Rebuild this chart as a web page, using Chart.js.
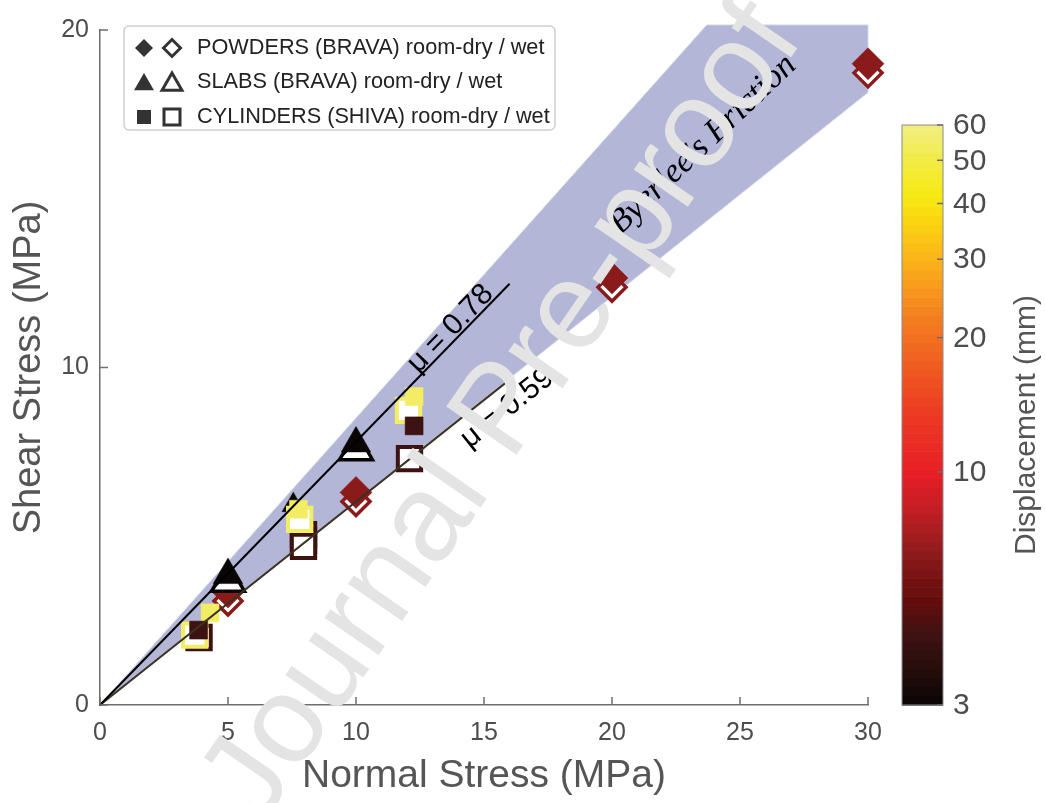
<!DOCTYPE html>
<html>
<head>
<meta charset="utf-8">
<script src="https://cdn.jsdelivr.net/npm/chart.js@4.4.1/dist/chart.umd.min.js"></script>
<style>
  html, body { margin: 0; padding: 0; background: #fff; }
  #wrap { width: 1045px; height: 803px; }
</style>
</head>
<body>
<div id="wrap"><canvas id="graph1" width="1045" height="803"></canvas></div>
<script>
// normal stress (MPa) / shear stress (MPa) / displacement (mm)
var powderX = [5, 10, 20, 30];
var powderDryY = [3.35, 6.3, 12.65, 19.0];
var powderWetY = [3.08, 6.03, 12.38, 18.73];
var powderDispl = [6.5, 6.5, 6.5, 6.5];

var slabDryX = [5, 7.55, 10];
var slabDryY = [3.85, 5.92, 7.75];
var slabDryDispl = [3, 3, 3];
var slabWetX = [5, 10];
var slabWetY = [3.65, 7.55];
var slabWetDispl = [3, 3];

var cylDryX = [4.3, 7.75, 12.27, 3.85, 12.27];
var cylDryY = [2.73, 5.8, 9.14, 2.22, 8.27];
var cylDryDispl = [55, 55, 55, 4.3, 4.3];
var cylWetX = [3.87, 7.95, 7.95, 7.95, 12.09, 3.7, 7.8, 12.05];
var cylWetY = [2.0, 5.05, 4.88, 4.7, 7.3, 2.07, 5.5, 8.73];
var cylWetDispl = [4.3, 4.3, 4.3, 4.3, 4.3, 55, 55, 55];

// Byerlee band and friction lines
var bandX = [0, 23.7, 30, 30, 0];
var bandY = [0, 20.15, 20.15, 18.15, 0];
var mu78X = [0, 16];
var mu78Y = [0, 12.48];
var mu59X = [0, 16.1];
var mu59Y = [0, 9.7];

var xTicks = [0, 5, 10, 15, 20, 25, 30];
var yTicks = [0, 10, 20];
var cbarTicks = [3, 10, 20, 30, 40, 50, 60];
var cbarMin = 3, cbarMax = 60;

var FONT = "'Liberation Sans', Arial, sans-serif";

// colormap (log displacement)
var cmapStops = [
  [0.00, [10, 5, 5]],
  [0.06, [38, 13, 13]],
  [0.12, [61, 18, 18]],
  [0.18, [100, 12, 12]],
  [0.26, [140, 26, 26]],
  [0.33, [190, 30, 36]],
  [0.40, [232, 30, 38]],
  [0.50, [236, 58, 34]],
  [0.60, [240, 98, 32]],
  [0.68, [244, 132, 30]],
  [0.77, [251, 180, 26]],
  [0.84, [250, 216, 16]],
  [0.88, [246, 234, 20]],
  [0.94, [242, 236, 70]],
  [1.00, [242, 238, 130]]
];

function cmapT(t) {
  t = Math.max(0, Math.min(1, t));
  for (var i = 1; i < cmapStops.length; i++) {
    if (t <= cmapStops[i][0]) {
      var a = cmapStops[i - 1], b = cmapStops[i];
      var f = (t - a[0]) / (b[0] - a[0]);
      var c = a[1].map(function (v, k) { return Math.round(v + (b[1][k] - v) * f); });
      return 'rgb(' + c.join(',') + ')';
    }
  }
  return 'rgb(242,238,130)';
}
function dispT(d) { return Math.log(d / cbarMin) / Math.log(cbarMax / cbarMin); }
function dispColor(d) { return cmapT(dispT(d)); }

function pts(xs, ys) { return xs.map(function (x, i) { return { x: x, y: ys[i] }; }); }

function drawMarker(ctx, style, x, y, r, fill, stroke, lw) {
  ctx.beginPath();
  if (style === 'diamond') {
    ctx.moveTo(x, y - r); ctx.lineTo(x + r, y); ctx.lineTo(x, y + r); ctx.lineTo(x - r, y);
  } else if (style === 'triangle') {
    ctx.moveTo(x, y - r);
    ctx.lineTo(x + r * 0.866, y + r / 2);
    ctx.lineTo(x - r * 0.866, y + r / 2);
  } else {
    ctx.rect(x - r, y - r, 2 * r, 2 * r);
  }
  ctx.closePath();
  if (fill) { ctx.fillStyle = fill; ctx.fill(); }
  if (stroke) { ctx.strokeStyle = stroke; ctx.lineWidth = lw; ctx.stroke(); }
}

var overlay = {
  id: 'overlay',
  beforeDatasetsDraw: function (chart) {
    var ctx = chart.ctx, xs = chart.scales.x, ys = chart.scales.y;
    ctx.save();
    ctx.beginPath();
    bandX.forEach(function (x, i) {
      var px = xs.getPixelForValue(x), py = ys.getPixelForValue(bandY[i]);
      if (i === 0) ctx.moveTo(px, py); else ctx.lineTo(px, py);
    });
    ctx.closePath();
    ctx.fillStyle = '#b4b6d8';
    ctx.fill();
    ctx.strokeStyle = '#d6d7e4';
    ctx.lineWidth = 1;
    ctx.stroke();
    ctx.restore();
  },
  afterDraw: function (chart) {
    var ctx = chart.ctx, xs = chart.scales.x, ys = chart.scales.y;
    var area = chart.chartArea;

    // inward ticks
    ctx.save();
    ctx.strokeStyle = '#6e6e6e';
    ctx.lineWidth = 1.5;
    xTicks.forEach(function (v) {
      var px = xs.getPixelForValue(v);
      ctx.beginPath(); ctx.moveTo(px, area.bottom); ctx.lineTo(px, area.bottom - 8); ctx.stroke();
    });
    yTicks.forEach(function (v) {
      var py = ys.getPixelForValue(v);
      ctx.beginPath(); ctx.moveTo(area.left, py); ctx.lineTo(area.left + 8, py); ctx.stroke();
    });
    ctx.restore();

    // rotated line labels
    function lineLabel(text, lx, ly, atX, offset, font) {
      var x0 = xs.getPixelForValue(lx[0]), y0 = ys.getPixelForValue(ly[0]);
      var x1 = xs.getPixelForValue(lx[1]), y1 = ys.getPixelForValue(ly[1]);
      var ang = Math.atan2(y1 - y0, x1 - x0);
      var f = (atX - lx[0]) / (lx[1] - lx[0]);
      var ax = x0 + (x1 - x0) * f, ay = y0 + (y1 - y0) * f;
      ctx.save();
      ctx.translate(ax, ay);
      ctx.rotate(ang);
      ctx.font = font;
      ctx.fillStyle = '#000';
      ctx.textAlign = 'center';
      ctx.textBaseline = 'middle';
      ctx.fillText(text, 0, offset);
      ctx.restore();
    }
    lineLabel('\u03bc = 0.78', mu78X, mu78Y, 14.0, -11, '30px ' + FONT);
    lineLabel('\u03bc = 0.59', mu59X, mu59Y, 15.4, 21, '30px ' + FONT);

    // Byerlee's friction label
    ctx.save();
    ctx.translate(xs.getPixelForValue(23.55), ys.getPixelForValue(16.6));
    ctx.rotate(-43.5 * Math.PI / 180);
    ctx.font = "italic 34px 'Liberation Serif', 'Times New Roman', serif";
    ctx.fillStyle = '#000';
    ctx.textAlign = 'center';
    ctx.textBaseline = 'middle';
    ctx.fillText("Byerlee's Friction", 0, 0);
    ctx.restore();

    // legend
    ctx.save();
    var lx = 124, ly = 26, lw = 431, lh = 104, rr = 5;
    ctx.beginPath();
    ctx.moveTo(lx + rr, ly);
    ctx.arcTo(lx + lw, ly, lx + lw, ly + lh, rr);
    ctx.arcTo(lx + lw, ly + lh, lx, ly + lh, rr);
    ctx.arcTo(lx, ly + lh, lx, ly, rr);
    ctx.arcTo(lx, ly, lx + lw, ly, rr);
    ctx.closePath();
    ctx.fillStyle = '#fff';
    ctx.fill();
    ctx.strokeStyle = '#cfcfcf';
    ctx.lineWidth = 1.5;
    ctx.stroke();
    var rows = [
      ['diamond', 'POWDERS (BRAVA) room-dry / wet', 48, 9, 8.5],
      ['triangle', 'SLABS (BRAVA) room-dry / wet', 82, 11.5, 11.5],
      ['square', 'CYLINDERS (SHIVA) room-dry / wet', 117, 7, 8]
    ];
    rows.forEach(function (r) {
      var cy = r[0] === 'triangle' ? r[2] + 2.5 : r[2];
      drawMarker(ctx, r[0], 144, cy, r[3], '#333', null, 0);
      drawMarker(ctx, r[0], 172, cy, r[4], '#fff', '#333', 3);
      ctx.font = '21.7px ' + FONT;
      ctx.fillStyle = '#222';
      ctx.textAlign = 'left';
      ctx.textBaseline = 'middle';
      ctx.fillText(r[1], 197, r[2]);
    });
    ctx.restore();

    // colorbar
    var cb = { left: 902, right: 943, top: 125, bottom: 705 };
    ctx.save();
    var n = 64, hb = (cb.bottom - cb.top) / n;
    for (var i = 0; i < n; i++) {
      ctx.fillStyle = cmapT((i + 0.5) / n);
      ctx.fillRect(cb.left, cb.bottom - (i + 1) * hb, cb.right - cb.left, hb + 0.6);
    }
    ctx.strokeStyle = '#8a8a8a';
    ctx.lineWidth = 1;
    ctx.strokeRect(cb.left, cb.top, cb.right - cb.left, cb.bottom - cb.top);
    ctx.font = '30px ' + FONT;
    ctx.fillStyle = '#4d4d4d';
    ctx.textAlign = 'left';
    ctx.textBaseline = 'middle';
    cbarTicks.forEach(function (v) {
      var py = cb.bottom - dispT(v) * (cb.bottom - cb.top);
      ctx.strokeStyle = '#6e6e6e';
      ctx.lineWidth = 1.5;
      ctx.beginPath(); ctx.moveTo(cb.right, py); ctx.lineTo(cb.right - 6, py); ctx.stroke();
      ctx.fillText(String(v), 953, py + 1);
    });
    ctx.translate(1027, 425);
    ctx.rotate(-Math.PI / 2);
    ctx.textAlign = 'center';
    ctx.fillStyle = '#555';
    ctx.font = '30px ' + FONT;
    ctx.fillText('Displacement (mm)', 0, 0);
    ctx.restore();

    // watermark
    ctx.save();
    ctx.translate(506, 414);
    ctx.rotate(-55.4 * Math.PI / 180);
    ctx.font = '124px ' + FONT;
    ctx.fillStyle = '#e4e4e4';
    ctx.textAlign = 'center';
    ctx.textBaseline = 'alphabetic';
    ctx.fillText('Journal Pre-proof', 0, 32);
    ctx.restore();
  }
};

var lineBase = { type: 'scatter', showLine: true, pointRadius: 0, fill: false, clip: false };

var chart = new Chart(document.getElementById('graph1'), {
  type: 'scatter',
  data: {
    datasets: [
      Object.assign({}, lineBase, {
        label: 'mu 0.78', data: pts(mu78X, mu78Y), borderColor: '#000', borderWidth: 2, order: 0
      }),
      Object.assign({}, lineBase, {
        label: 'mu 0.59', data: pts(mu59X, mu59Y), borderColor: '#3a3322', borderWidth: 2, order: 0
      }),
      {
        label: 'Cylinders dry', data: pts(cylDryX, cylDryY), pointStyle: 'rect', pointRadius: 12.7,
        pointBackgroundColor: cylDryDispl.map(dispColor), pointBorderColor: cylDryDispl.map(dispColor),
        pointBorderWidth: 0.5, clip: false, order: 1
      },
      {
        label: 'Cylinders wet', data: pts(cylWetX, cylWetY), pointStyle: 'rect', pointRadius: 16.5,
        pointBackgroundColor: '#fff', pointBorderColor: cylWetDispl.map(dispColor),
        pointBorderWidth: 4, clip: false, order: 2
      },
      {
        label: 'Slabs dry', data: pts(slabDryX, slabDryY), pointStyle: 'triangle', pointRadius: [17, 13, 17],
        pointBackgroundColor: slabDryDispl.map(dispColor), pointBorderColor: slabDryDispl.map(dispColor),
        pointBorderWidth: 0.5, clip: false, order: 3
      },
      {
        label: 'Slabs wet', data: pts(slabWetX, slabWetY), pointStyle: 'triangle', pointRadius: 19,
        pointBackgroundColor: '#fff', pointBorderColor: slabWetDispl.map(dispColor),
        pointBorderWidth: 3.5, clip: false, order: 4
      },
      {
        label: 'Powders dry', data: pts(powderX, powderDryY), pointStyle: 'rectRot', pointRadius: 16,
        pointBackgroundColor: powderDispl.map(dispColor), pointBorderColor: powderDispl.map(dispColor),
        pointBorderWidth: 0.5, clip: false, order: 5
      },
      {
        label: 'Powders wet', data: pts(powderX, powderWetY), pointStyle: 'rectRot', pointRadius: 14,
        pointBackgroundColor: '#fff', pointBorderColor: powderDispl.map(dispColor),
        pointBorderWidth: 3.5, clip: false, order: 6
      }
    ]
  },
  options: {
    responsive: false,
    animation: false,
    events: [],
    layout: { padding: { left: 0, right: 177, top: 30, bottom: 0 } },
    plugins: { legend: { display: false }, tooltip: { enabled: false } },
    scales: {
      x: {
        type: 'linear', min: 0, max: 30,
        afterBuildTicks: function (s) { s.ticks = xTicks.map(function (v) { return { value: v }; }); },
        afterFit: function (s) { s.height = 98; },
        grid: { display: false, drawTicks: false },
        border: { display: true, color: '#6e6e6e', width: 1.5 },
        ticks: { padding: 13, color: '#4d4d4d', font: { family: FONT, size: 25 }, maxRotation: 0 },
        title: { display: true, text: 'Normal Stress (MPa)', color: '#555', font: { family: FONT, size: 39 }, padding: { top: 0, bottom: 3 } }
      },
      y: {
        type: 'linear', min: 0, max: 20,
        afterBuildTicks: function (s) { s.ticks = yTicks.map(function (v) { return { value: v }; }); },
        afterFit: function (s) { s.width = 100; },
        grid: { display: false, drawTicks: false },
        border: { display: true, color: '#6e6e6e', width: 1.5 },
        ticks: { padding: 11, color: '#4d4d4d', font: { family: FONT, size: 25 } },
        title: { display: true, text: 'Shear Stress (MPa)', color: '#555', font: { family: FONT, size: 38 }, padding: { top: 7, bottom: 0 } }
      }
    }
  },
  plugins: [overlay]
});
</script>
</body>
</html>
